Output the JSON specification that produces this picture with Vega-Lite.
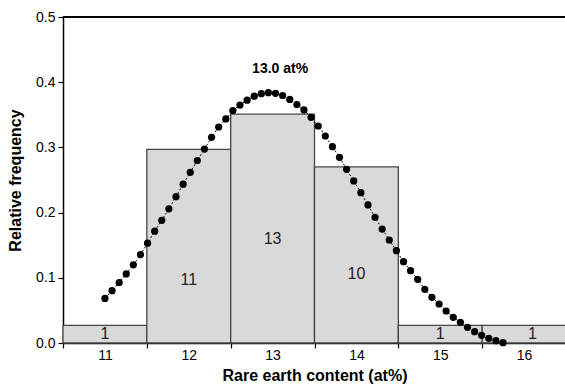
{
  "$schema": "https://vega.github.io/schema/vega-lite/v6.json",
  "autosize": {"type": "none"},
  "width": 503,
  "height": 326,
  "padding": {"left": 63, "top": 17, "right": 0, "bottom": 43},
  "background": "white",
  "config": {
    "view": {"stroke": null},
    "font": "Liberation Sans",
    "axis": {
      "domainColor": "black",
      "domainWidth": 1.5,
      "tickColor": "black",
      "tickWidth": 1.2,
      "tickSize": 5,
      "labelColor": "black",
      "labelFont": "Liberation Sans",
      "labelFontSize": 14,
      "titleFont": "Liberation Sans",
      "titleFontSize": 16,
      "titleFontWeight": "bold",
      "titleColor": "black",
      "grid": false
    }
  },
  "datasets": {
    "bins": [
      {"start": 10.5, "end": 11.5, "freq": 0.027, "count": 1},
      {"start": 11.5, "end": 12.5, "freq": 0.297, "count": 11},
      {"start": 12.5, "end": 13.5, "freq": 0.351, "count": 13},
      {"start": 13.5, "end": 14.5, "freq": 0.270, "count": 10},
      {"start": 14.5, "end": 15.5, "freq": 0.027, "count": 1},
      {"start": 15.5, "end": 16.5, "freq": 0.027, "count": 1}
    ],
    "labels": [
      {"lx": 11.0, "ly": 0.014, "txt": "1"},
      {"lx": 12.0, "ly": 0.097, "txt": "11"},
      {"lx": 13.0, "ly": 0.160, "txt": "13"},
      {"lx": 14.0, "ly": 0.106, "txt": "10"},
      {"lx": 15.0, "ly": 0.014, "txt": "1"},
      {"lx": 16.1, "ly": 0.014, "txt": "1"}
    ],
    "fit": [
      {"x": 11.000, "y": 0.0683}, {"x": 11.085, "y": 0.0802}, {"x": 11.170, "y": 0.0928},
      {"x": 11.254, "y": 0.1060}, {"x": 11.339, "y": 0.1199}, {"x": 11.424, "y": 0.1356},
      {"x": 11.509, "y": 0.1531}, {"x": 11.594, "y": 0.1715}, {"x": 11.678, "y": 0.1882},
      {"x": 11.763, "y": 0.2058}, {"x": 11.848, "y": 0.2244}, {"x": 11.933, "y": 0.2436},
      {"x": 12.018, "y": 0.2618}, {"x": 12.102, "y": 0.2799}, {"x": 12.187, "y": 0.2975},
      {"x": 12.272, "y": 0.3155}, {"x": 12.357, "y": 0.3313}, {"x": 12.442, "y": 0.3436},
      {"x": 12.526, "y": 0.3566}, {"x": 12.611, "y": 0.3650}, {"x": 12.696, "y": 0.3724},
      {"x": 12.781, "y": 0.3785}, {"x": 12.866, "y": 0.3824}, {"x": 12.950, "y": 0.3839},
      {"x": 13.035, "y": 0.3830}, {"x": 13.120, "y": 0.3796}, {"x": 13.205, "y": 0.3735},
      {"x": 13.290, "y": 0.3658}, {"x": 13.374, "y": 0.3574}, {"x": 13.459, "y": 0.3462},
      {"x": 13.544, "y": 0.3328}, {"x": 13.629, "y": 0.3175}, {"x": 13.714, "y": 0.3011},
      {"x": 13.798, "y": 0.2848}, {"x": 13.883, "y": 0.2664}, {"x": 13.968, "y": 0.2485},
      {"x": 14.053, "y": 0.2305}, {"x": 14.138, "y": 0.2117}, {"x": 14.222, "y": 0.1928},
      {"x": 14.307, "y": 0.1748}, {"x": 14.392, "y": 0.1580}, {"x": 14.477, "y": 0.1416},
      {"x": 14.562, "y": 0.1247}, {"x": 14.646, "y": 0.1109}, {"x": 14.731, "y": 0.0977},
      {"x": 14.816, "y": 0.0824}, {"x": 14.901, "y": 0.0701}, {"x": 14.986, "y": 0.0598},
      {"x": 15.070, "y": 0.0491}, {"x": 15.155, "y": 0.0394}, {"x": 15.240, "y": 0.0317},
      {"x": 15.325, "y": 0.0241}, {"x": 15.410, "y": 0.0173}, {"x": 15.494, "y": 0.0118},
      {"x": 15.579, "y": 0.0072}, {"x": 15.664, "y": 0.0035}, {"x": 15.749, "y": 0.0005}
    ],
    "note": [
      {"nx": 13.09, "ny": 0.421, "txt": "13.0 at%"}
    ]
  },
  "layer": [
    {
      "data": {"name": "bins"},
      "mark": {"type": "rect", "fill": "#d9d9d9", "stroke": "#444444", "strokeWidth": 1.3},
      "encoding": {
        "x": {
          "field": "start", "type": "quantitative",
          "scale": {"domain": [10.5, 16.5], "nice": false, "zero": false},
          "axis": {
            "title": "Rare earth content (at%)",
            "values": [10.5, 11, 11.5, 12, 12.5, 13, 13.5, 14, 14.5, 15, 15.5, 16, 16.5],
            "labelExpr": "datum.value % 1 == 0 ? format(datum.value, 'd') : ''",
            "tickColor": {"condition": {"test": "datum.value % 1 == 0", "value": "transparent"}, "value": "black"},
            "labelPadding": 0,
            "labelOverlap": false,
            "labelFlush": false,
            "titlePadding": 5
          }
        },
        "x2": {"field": "end"},
        "y": {
          "field": "freq", "type": "quantitative",
          "scale": {"domain": [0, 0.5], "nice": false},
          "axis": {
            "title": "Relative frequency",
            "values": [0, 0.05, 0.1, 0.15, 0.2, 0.25, 0.3, 0.35, 0.4, 0.45, 0.5],
            "labelExpr": "round(datum.value * 100) % 10 == 0 ? format(datum.value, '.1f') : ''",
            "labelPadding": 3,
            "labelOverlap": false,
            "labelFlush": false,
            "titlePadding": 12
          }
        },
        "y2": {"datum": 0}
      }
    },
    {
      "data": {"name": "bins"},
      "mark": {"type": "rule", "color": "black", "strokeWidth": 1.5},
      "encoding": {
        "y": {"datum": 0.5}
      }
    },
    {
      "data": {"name": "labels"},
      "mark": {"type": "text", "font": "Liberation Sans", "fontSize": 16, "color": "#222222", "baseline": "middle", "align": "center"},
      "encoding": {
        "x": {"field": "lx", "type": "quantitative"},
        "y": {"field": "ly", "type": "quantitative"},
        "text": {"field": "txt"}
      }
    },
    {
      "data": {"name": "fit"},
      "mark": {"type": "line", "color": "black", "strokeWidth": 1, "strokeDash": [2, 2]},
      "encoding": {
        "x": {"field": "x", "type": "quantitative"},
        "y": {"field": "y", "type": "quantitative"}
      }
    },
    {
      "data": {"name": "fit"},
      "mark": {"type": "point", "filled": true, "color": "black", "size": 52, "opacity": 1},
      "encoding": {
        "x": {"field": "x", "type": "quantitative"},
        "y": {"field": "y", "type": "quantitative"}
      }
    },
    {
      "data": {"name": "note"},
      "mark": {"type": "text", "font": "Liberation Sans", "fontSize": 14, "fontWeight": "bold", "color": "black", "baseline": "middle", "align": "center"},
      "encoding": {
        "x": {"field": "nx", "type": "quantitative"},
        "y": {"field": "ny", "type": "quantitative"},
        "text": {"field": "txt"}
      }
    }
  ]
}
